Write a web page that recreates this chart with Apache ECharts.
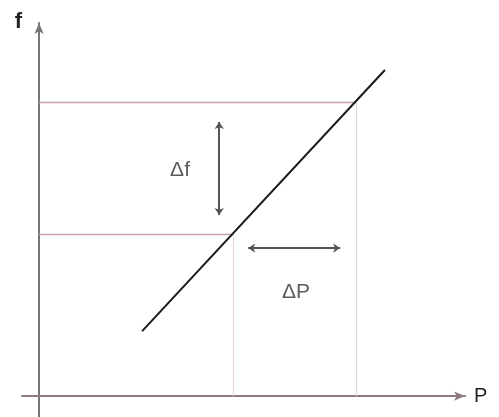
<!DOCTYPE html>
<html><head><meta charset="utf-8">
<script src="https://cdn.jsdelivr.net/npm/echarts@6/dist/echarts.min.js"></script>
<style>html,body{margin:0;padding:0;background:#fff}#c{width:499px;height:417px}</style>
</head><body><div id="c"></div>
<script>
// Data (P on x, f on y)
const fLevels = [3.87, 7.02];          // two frequency levels
const pLevels = [4.55, 7.45];          // matching power levels
const droopLine = [[2.42, 1.55], [8.12, 7.78]];
const deltaFArrow = [[4.23, 6.54], [4.23, 4.32]];
const deltaPArrow = [[4.91, 3.53], [7.07, 3.53]];
const textLabels = [
  {name: 'Δf', value: [3.31, 5.39]},
  {name: 'ΔP', value: [6.03, 2.48]}
];
const axisNames = {x: 'P', y: 'f'};

const chart = echarts.init(document.getElementById('c'), null, {renderer: 'canvas'});
const pink = '#c9a2b5';
const faint = '#e6d2dc';
chart.setOption({
  animation: false,
  grid: {left: 22, right: 34, top: 23, bottom: 0, containLabel: false},
  xAxis: {
    type: 'value', min: -0.4, max: 10,
    name: axisNames.x, nameLocation: 'end', nameGap: 9,
    nameTextStyle: {fontSize: 20, color: '#222', fontFamily: 'Liberation Sans', verticalAlign: 'middle'},
    axisLine: {show: true, onZero: true, symbol: ['none', 'arrow'], symbolSize: [7, 11], symbolOffset: [0, 0],
      lineStyle: {color: '#8a7c82', width: 2}},
    axisTick: {show: false}, axisLabel: {show: false}, splitLine: {show: false}
  },
  yAxis: {
    type: 'value', min: -0.5, max: 8.9,
    name: axisNames.y, nameLocation: 'end', nameGap: -10,
    nameTextStyle: {fontSize: 22, fontWeight: 'bold', color: '#222', fontFamily: 'Liberation Sans', align: 'right', padding: [0, 17, 0, 0]},
    axisLine: {show: true, onZero: true, symbol: ['none', 'arrow'], symbolSize: [7, 11],
      lineStyle: {color: '#777', width: 2}},
    axisTick: {show: false}, axisLabel: {show: false}, splitLine: {show: false}
  },
  series: [
    {
      type: 'lines', coordinateSystem: 'cartesian2d', silent: true, z: 1,
      lineStyle: {color: pink, width: 1.4, opacity: 1},
      data: [
        {coords: [[0, fLevels[1]], [pLevels[1], fLevels[1]]]},
        {coords: [[0, fLevels[0]], [pLevels[0], fLevels[0]]]}
      ]
    },
    {
      type: 'lines', coordinateSystem: 'cartesian2d', silent: true, z: 1,
      lineStyle: {color: faint, width: 1, opacity: 1},
      data: [
        {coords: [[pLevels[1], fLevels[1]], [pLevels[1], 0]]},
        {coords: [[pLevels[0], fLevels[0]], [pLevels[0], 0]]}
      ]
    },
    {
      type: 'lines', coordinateSystem: 'cartesian2d', silent: true, z: 3,
      lineStyle: {color: '#1a1a1a', width: 2, opacity: 1},
      data: [{coords: droopLine}]
    },
    {
      type: 'lines', coordinateSystem: 'cartesian2d', silent: true, z: 3,
      symbol: ['arrow', 'arrow'], symbolSize: 7,
      lineStyle: {color: '#555', width: 2, opacity: 1},
      data: [{coords: deltaFArrow}, {coords: deltaPArrow}]
    },
    {
      type: 'scatter', symbolSize: 0, silent: true, z: 4,
      label: {show: true, position: 'inside', formatter: '{b}', fontSize: 21, color: '#333', fontFamily: 'Liberation Sans'},
      data: textLabels
    }
  ]
});
</script></body></html>
